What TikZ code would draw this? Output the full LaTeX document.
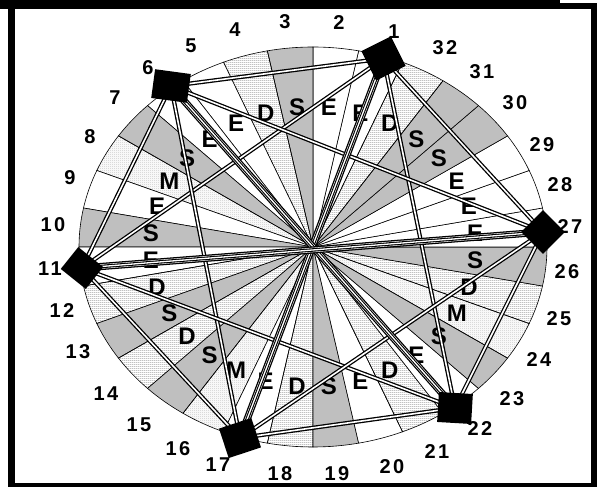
\documentclass[tikz,border=0pt]{standalone}
\usepackage{fontspec}
\setmainfont{Liberation Sans}
\newfontfamily\numfont[LetterSpace=12]{Liberation Sans}
\usetikzlibrary{calc,patterns}

\pgfdeclarepatternformonly{fine lines}{\pgfpointorigin}{\pgfqpoint{2pt}{2pt}}{\pgfqpoint{2pt}{2pt}}{
    \pgfpathrectangle{\pgfpointorigin}{\pgfqpoint{2pt}{0.9pt}}\pgfusepath{fill}}
\pgfdeclarepatternformonly{fine checks}{\pgfpointorigin}{\pgfqpoint{2pt}{2pt}}{\pgfqpoint{2pt}{2pt}}{
    \pgfpathrectangle{\pgfpointorigin}{\pgfqpoint{1pt}{1pt}}
    \pgfpathrectangle{\pgfqpoint{1pt}{1pt}}{\pgfqpoint{1pt}{1pt}}\pgfusepath{fill}}

\tikzset{
  secE/.style={fill=white},
  secS/.style={fill=gray!50},
  secD/.style={pattern=fine lines, pattern color=gray!75},
  secM/.style={pattern=fine checks, pattern color=gray!45},
  link/.style={draw=black, double=white, line width=1.3pt, double distance=1.6pt},
  trunk/.style={draw=black, double=white, line width=1.3pt, double distance=4.6pt,
    postaction={draw=black, double=white, line width=1.1pt, double distance=1.3pt}},
  station/.style={rectangle, fill=black, inner sep=0pt},
  num/.style={font=\numfont\bfseries\fontsize{20}{20}\selectfont, inner sep=0pt},
  tag/.style={font=\bfseries\fontsize{24}{24}\selectfont, inner sep=0pt}
}

\begin{document}
\begin{tikzpicture}[x=1pt, y=1pt]
    \useasboundingbox (0,0) rectangle (597,487);
    \coordinate (hub) at (313,240);

    % sectors of the wheel
    \foreach \k/\l in {1/E,2/E,3/S,4/D,5/E,6/E,7/S,8/M,9/E,10/S,11/E,12/D,13/S,14/D,15/S,16/M,
                       17/E,18/D,19/S,20/E,21/D,22/E,23/S,24/M,25/D,26/S,27/E,28/E,29/E,30/S,31/S,32/D} {
        \pgfmathsetmacro\ta{(\k-27)*11.25}
        \pgfmathsetmacro\tb{\ta+11.25}
        \pgfmathsetmacro\tm{\ta+5.625}
        \path[sec\l, draw=black, line width=0.6pt] (hub) -- ++(\ta:234 and 200)
            arc[start angle=\ta, end angle=\tb, x radius=234, y radius=200] -- cycle;
        \node[tag] (l\k) at ($(hub)+(\tm:163 and 140)$) {\l};
    }

    % stations
    \coordinate (p1) at (383.5,428.5);
    \coordinate (p6) at (171,401);
    \coordinate (p11) at (82,219);
    \coordinate (p17) at (240,49);
    \coordinate (p22) at (455,79);
    \coordinate (p27) at (543,255);

    \foreach \a/\b in {1/6,1/11,1/22,1/27,6/11,6/17,6/27,11/17,11/22,17/22,17/27,22/27}
        \draw[link] (p\a) -- (p\b);
    \draw[trunk] (p1) -- (p17);
    \draw[trunk] (p6) -- (p22);
    \draw[trunk] (p11) -- (p27);

    % numbers round the wheel
    \foreach \k/\x/\y in {1/394/455, 2/339/464, 3/285/465, 4/235/457, 5/191/441, 6/148/419,
                          7/115/389, 8/90/350, 9/70/309, 10/53/262, 11/50/218, 12/62/176,
                          13/78/135, 14/106/93, 15/139/62, 16/178/38, 17/218/22, 18/280/13,
                          19/337/13, 20/392/20, 21/437/35, 22/480/58, 23/512/88, 24/539/127,
                          25/559/168, 26/567/215, 27/570/260, 28/560/302, 29/542/342,
                          30/515/384, 31/482/415, 32/445/439}
        \node[num] (n\k) at (\x,\y) {\k};

    \node[station, minimum width=33pt, minimum height=33pt, rotate=26.6] (s1) at (p1) {};
    \node[station, minimum width=36pt, minimum height=29pt, rotate=-7.7] (s6) at (p6) {};
    \node[station, minimum width=32pt, minimum height=28pt, rotate=-38.7] (s11) at (p11) {};
    \node[station, minimum width=34pt, minimum height=31pt, rotate=18.4] (s17) at (p17) {};
    \node[station, minimum width=34pt, minimum height=30pt, rotate=-3.4] (s22) at (p22) {};
    \node[station, minimum width=31pt, minimum height=31pt, rotate=-45] (s27) at (p27) {};

    % frame
    \fill[black] (0,478) rectangle (597,487);
    \fill[white] (560,484) rectangle (597,487);
    \fill[black] (8,0) rectangle (15,478);
    \fill[black] (8,0) rectangle (597,4);
    \fill[black] (591,0) rectangle (597,478);
\end{tikzpicture}
\end{document}
